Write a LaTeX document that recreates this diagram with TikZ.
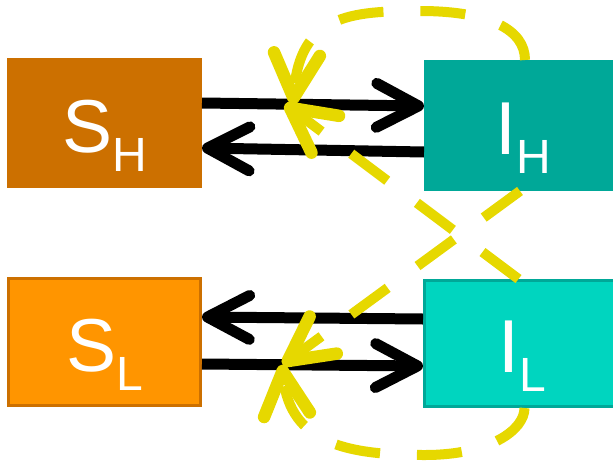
\documentclass[tikz,border=0pt]{standalone}
\usepackage{fontspec}
\setmainfont{Liberation Sans}
\usetikzlibrary{arrows.meta}

\definecolor{shfill}{HTML}{CC7000}
\definecolor{slfill}{HTML}{FF9500}
\definecolor{ihfill}{HTML}{00A898}
\definecolor{ilfill}{HTML}{00D5BF}
\definecolor{effectc}{HTML}{E6D800}

\newcommand{\compname}[2]{\fontsize{75pt}{75pt}\selectfont #1\raisebox{-19pt}{\fontsize{48pt}{48pt}\selectfont #2}}

\tikzset{
  box/.style={rectangle, inner sep=0pt, text=white,
    text height=80pt, text depth=22pt},
  flow/.style={line width=11pt, black,
    -{Straight Barb[length=42pt,width=44pt,round]}},
  effect/.style={line width=10pt, effectc, dash pattern=on 45pt off 37pt,
    -{Straight Barb[length=44pt,width=46pt,line width=12.5pt,round]}},
}

\begin{document}
\begin{tikzpicture}[x=1pt,y=-1pt]
\useasboundingbox (0,0) rectangle (613,466);
\clip (0,0) rectangle (613,466);

% compartments
\node[box, fill=shfill, draw=shfill, line width=1pt,
      minimum width=194pt, minimum height=129pt] (sh) at (104.5,123) {\compname{S}{H}};
\node[box, fill=ihfill, draw=ihfill, line width=1pt,
      minimum width=197pt, minimum height=130pt] (ih) at (523,125.5) {\compname{I}{H}};
\node[box, fill=slfill, draw=shfill, line width=3pt,
      minimum width=192pt, minimum height=127pt] (sl) at (104.5,342) {\compname{S}{L}};
\node[box, fill=ilfill, draw=ihfill, line width=3pt,
      minimum width=196pt, minimum height=126pt] (il) at (522.5,343.5) {\compname{I}{L}};

% transitions between compartments
\draw[flow] ([yshift=20pt]sh.east) -- ([yshift=19.5pt]ih.west)
  coordinate[pos=0.41] (hitA) coordinate[pos=0.374] (hitB);
\draw[flow] ([yshift=-26.5pt]ih.west) -- ([yshift=-25pt]sh.east);
\draw[flow] ([yshift=24.5pt]il.west) -- ([yshift=25pt]sl.east);
\draw[flow] ([yshift=-22pt]sl.east) -- ([yshift=-22.5pt]il.west)
  coordinate[pos=0.365] (hitC) coordinate[pos=0.362] (hitD);

% influence of the infected compartments on infection
\draw[effect] ([xshift=2pt]ih.north) .. controls +(0,-30) and (490,11) .. (420,11)
  .. controls (350,11) and (300,15) .. (hitA);
\draw[effect] ([xshift=-3pt]ih.south) -- (hitC);
\draw[effect] ([xshift=-4pt]il.north) -- (hitB);
\draw[effect] ([xshift=2pt]il.south) .. controls +(0,22) and (490,455) .. (425,455)
  .. controls (350,455) and (290,445) .. (hitD);
\end{tikzpicture}
\end{document}
